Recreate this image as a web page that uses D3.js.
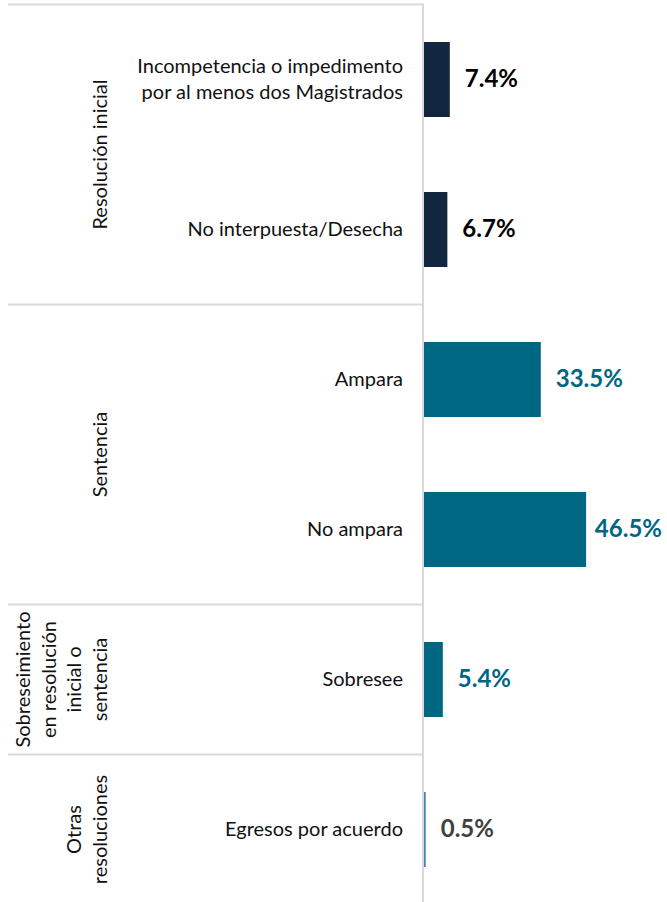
<!DOCTYPE html>
<html><head><meta charset="utf-8">
<script src="https://cdn.jsdelivr.net/npm/d3@7"></script>
<style>html,body{margin:0;padding:0;background:#fff}svg{display:block}</style>
</head><body>
<svg id="chart" width="667" height="902"></svg>
<script>
// ---- data ----
const categories = ["Incompetencia o impedimento|por al menos dos Magistrados", "No interpuesta/Desecha", "Ampara", "No ampara", "Sobresee", "Egresos por acuerdo"];
const values = [7.4, 6.7, 33.5, 46.5, 5.4, 0.5];
const groupOf = ["g1", "g1", "g2", "g2", "g3", "g4"];
const groupIds = ["g1", "g2", "g3", "g4"];
const groupLabels = [["Resolución inicial"], ["Sentencia"], ["Sobreseimiento", "en resolución", "inicial o", "sentencia"], ["Otras", "resoluciones"]];

// ---- styles ----
const barColor = d3.scaleOrdinal().domain(groupIds).range(["#13263f", "#006783", "#006783", "#4a80c0"]);
const labelColor = d3.scaleOrdinal().domain(groupIds).range(["#000000", "#006783", "#006783", "#404040"]);
const FONT = "Lato, 'Open Sans', sans-serif";

const svg = d3.select("#chart");
const W = 667;

const y = d3.scaleBand().domain(categories).range([4.5, 904.5]).paddingInner(0.5).paddingOuter(0.25);
const x = d3.scaleLinear().domain([0, 50]).range([424, 598.3]);
const step = y.step(), pad = (step - y.bandwidth()) / 2;
const axisX = 423;

// group boundaries
const groupExtent = groupIds.map(g => {
  const cats = categories.filter((c, i) => groupOf[i] === g);
  return [y(cats[0]) - pad, y(cats[cats.length - 1]) + y.bandwidth() + pad];
});
const bounds = [groupExtent[0][0], ...groupExtent.map(e => e[1])];

svg.append("g").selectAll("line").data(bounds).join("line")
  .attr("x1", 8).attr("x2", axisX).attr("y1", d => d).attr("y2", d => d)
  .attr("stroke", "#d9d9d9").attr("stroke-width", 2);

// axis line
svg.append("line").attr("x1", axisX).attr("x2", axisX)
  .attr("y1", bounds[0] - 1).attr("y2", bounds[bounds.length - 1])
  .attr("stroke", "#d9d9d9").attr("stroke-width", 2);

// bars
svg.append("g").selectAll("rect").data(values).join("rect")
  .attr("x", x(0)).attr("y", (d, i) => y(categories[i]))
  .attr("width", d => x(d) - x(0)).attr("height", y.bandwidth())
  .attr("fill", (d, i) => barColor(groupOf[i]));

// category labels
const catG = svg.append("g").attr("font-family", FONT).attr("font-size", 20).attr("fill", "#111").attr("text-anchor", "end");
categories.forEach((c, i) => {
  const lines = c.split("|");
  const cy = y(c) + y.bandwidth() / 2 + 1.5;
  const lh = 26.5;
  const t = catG.append("text").attr("dominant-baseline", "middle");
  lines.forEach((l, j) => {
    t.append("tspan").attr("x", 403).attr("y", cy + (j - (lines.length - 1) / 2) * lh).text(l);
  });
});

// group labels (rotated)
const grpG = svg.append("g").attr("font-family", FONT).attr("font-size", 20).attr("fill", "#111").attr("text-anchor", "middle");
groupIds.forEach((g, k) => {
  const cy = (groupExtent[k][0] + groupExtent[k][1]) / 2;
  const lines = groupLabels[k];
  const lh = 25.7;
  const t = grpG.append("text").attr("transform", `translate(102,${cy}) rotate(-90)`).attr("dominant-baseline", "middle");
  lines.forEach((l, j) => {
    t.append("tspan").attr("x", 0).attr("y", (j - (lines.length - 1)) * lh).text(l);
  });
});

// value labels
const valG = svg.append("g").attr("font-family", FONT).attr("font-weight", "bold").attr("font-size", 24);
values.forEach((v, i) => {
  const t = valG.append("text")
    .attr("x", x(v) + 15).attr("y", y(categories[i]) + y.bandwidth() / 2 + 1.5)
    .attr("dominant-baseline", "middle")
    .attr("fill", labelColor(groupOf[i]))
    .text(v.toFixed(1) + "%");
  const w = t.node().getComputedTextLength();
  if (x(v) + 15 + w > W - 5) t.attr("x", W - 5 - w);
});
</script>
</body></html>
